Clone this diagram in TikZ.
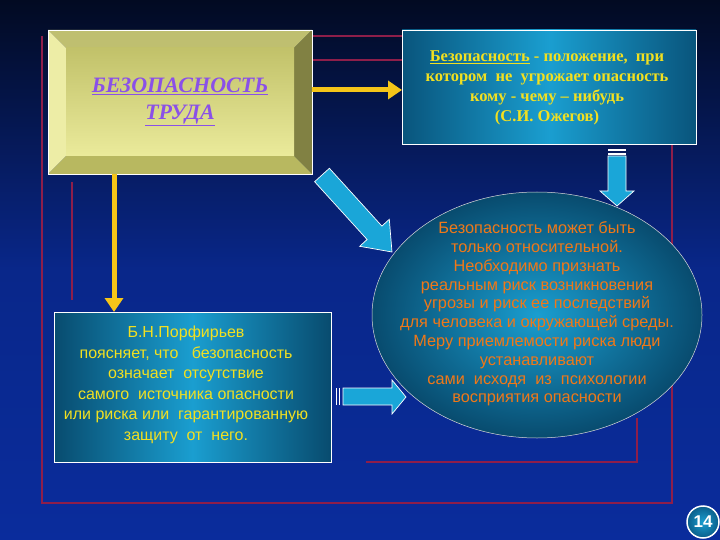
\documentclass[tikz,border=0pt]{standalone}
\usepackage{fontspec}
\setmainfont{Liberation Serif}
\setsansfont{Liberation Sans}
\usetikzlibrary{arrows.meta}
\definecolor{bgtop}{HTML}{020A22}
\definecolor{bgbot}{HTML}{0A2C9C}
\definecolor{redl}{HTML}{8E1E4A}
\definecolor{yel}{HTML}{F5C518}
\definecolor{tealA}{HTML}{0A5E8A}
\definecolor{tealB}{HTML}{1A9ED0}
\definecolor{oliveA}{HTML}{E8E890}
\definecolor{oliveB}{HTML}{B8B860}
\definecolor{blueA}{HTML}{1AA6D8}
\definecolor{txtY}{HTML}{F2E020}
\definecolor{txtO}{HTML}{F07818}
\definecolor{vio}{HTML}{8A50E8}
\tikzset{
  redline/.style={draw=redl,line width=2.2pt},
  yarrow/.style={draw=yel,line width=5pt,-{Triangle[length=14pt,width=18pt]}},
  barrow/.style={fill=blueA,draw=white,line width=0.7pt},
}
\begin{document}
\begin{tikzpicture}[x=1pt,y=-1pt]
\useasboundingbox (0,0) rectangle (720,540);
\shade[top color=bgtop,bottom color=bgbot,middle color=bgbot!85!bgtop] (0,0) rectangle (720,540);
% red frame lines
\draw[redline] (42,36) -- (42,503) -- (672,503) -- (672,144);
\draw[redline] (312,36) -- (402,36);
\draw[redline] (312,60) -- (402,60);
\draw[redline] (72,182) -- (72,300);
\draw[redline] (637,418) -- (637,462) -- (366,462);
% left title box
\fill[oliveB!90!white] (48,30) -- (312,30) -- (294,48) -- (66,48) -- cycle;
\fill[oliveB!70!black] (312,30) -- (312,174) -- (294,156) -- (294,48) -- cycle;
\fill[oliveB] (48,174) -- (312,174) -- (294,156) -- (66,156) -- cycle;
\fill[oliveA!80!white] (48,30) -- (48,174) -- (66,156) -- (66,48) -- cycle;
\shade[top color=oliveB!80!oliveA,bottom color=oliveA!90!white] (66,48) rectangle (294,156);
\draw[white,line width=0.8pt] (48,30) rectangle (312,174);
\node[font=\bfseries\itshape\fontsize{22}{27}\selectfont,text=vio,align=center] (title) at (180,102)
  {\underline{БЕЗОПАСНОСТЬ}\\\underline{ТРУДА}};
% top right box
\shade[left color=tealA!90!black,right color=tealA!90!black,middle color=tealB] (402,30) rectangle (696,144);
\draw[white,line width=0.8pt] (402,30) rectangle (696,144);
\node[font=\bfseries\fontsize{16.5}{20}\selectfont,text=txtY,align=center] (def) at (547,88)
  {\underline{Безопасность} - положение, \ при\\котором \ не \ угрожает опасность\\кому - чему -- нибудь\\(С.И. Ожегов)};
% bottom left box
\shade[left color=tealA!80!black,right color=tealA!80!black,middle color=tealB] (54,312) rectangle (331,462);
\draw[white,line width=0.8pt] (54,312) rectangle (331,462);
\node[font=\sffamily\fontsize{16}{20.5}\selectfont,text=txtY,align=center] (porf) at (186,385)
  {Б.Н.Порфирьев\\поясняет, что \ \ безопасность\\означает \ отсутствие\\самого \ источника опасности\\или риска или \ гарантированную\\защиту \ от \ него.};
% ellipse
\shade[inner color=tealB,outer color=tealA!80!black] (537,315) ellipse [x radius=165,y radius=123];
\draw[white!70!gray,line width=0.5pt] (537,315) ellipse [x radius=165,y radius=123];
\node[font=\sffamily\fontsize{16.3}{18.8}\selectfont,text=txtO,align=center] (ell) at (537,314)
  {Безопасность может быть\\только относительной.\\Необходимо признать\\реальным риск возникновения\\угрозы и риск ее последствий\\для человека и окружающей среды.\\Меру приемлемости риска люди\\устанавливают\\сами \ исходя \ из \ психологии\\восприятия опасности};
% yellow arrows
\draw[yarrow] (312,90) -- (402,90);
\draw[yarrow] (114,174) -- (114,312);
% blue arrows
\draw[barrow] (608,156) -- (626,156) -- (626,191) -- (634,191) -- (617,206) -- (600,191) -- (608,191) -- cycle;
\fill[white] (608,149) rectangle (626,151); \fill[white] (608,153) rectangle (626,155);
\draw[barrow] (329.4,168.3) -- (381.9,226.1) -- (389.3,219.3) -- (392,252) -- (359.7,246.3) -- (367.1,239.5) -- (314.6,181.7) -- cycle;
\draw[barrow] (343,388) -- (392,388) -- (392,380) -- (406,397) -- (392,414) -- (392,405) -- (343,405) -- cycle;
\draw[white,line width=0.8pt] (336,388) -- (336,405) (339,388) -- (339,405);
% page number
\shade[inner color=tealB,outer color=tealA] (703,522) circle (16);
\draw[white,line width=1.5pt] (703,522) circle (16);
\node[font=\sffamily\bfseries\fontsize{17}{17}\selectfont,text=white] (num) at (703,522) {14};
\end{tikzpicture}
\end{document}
